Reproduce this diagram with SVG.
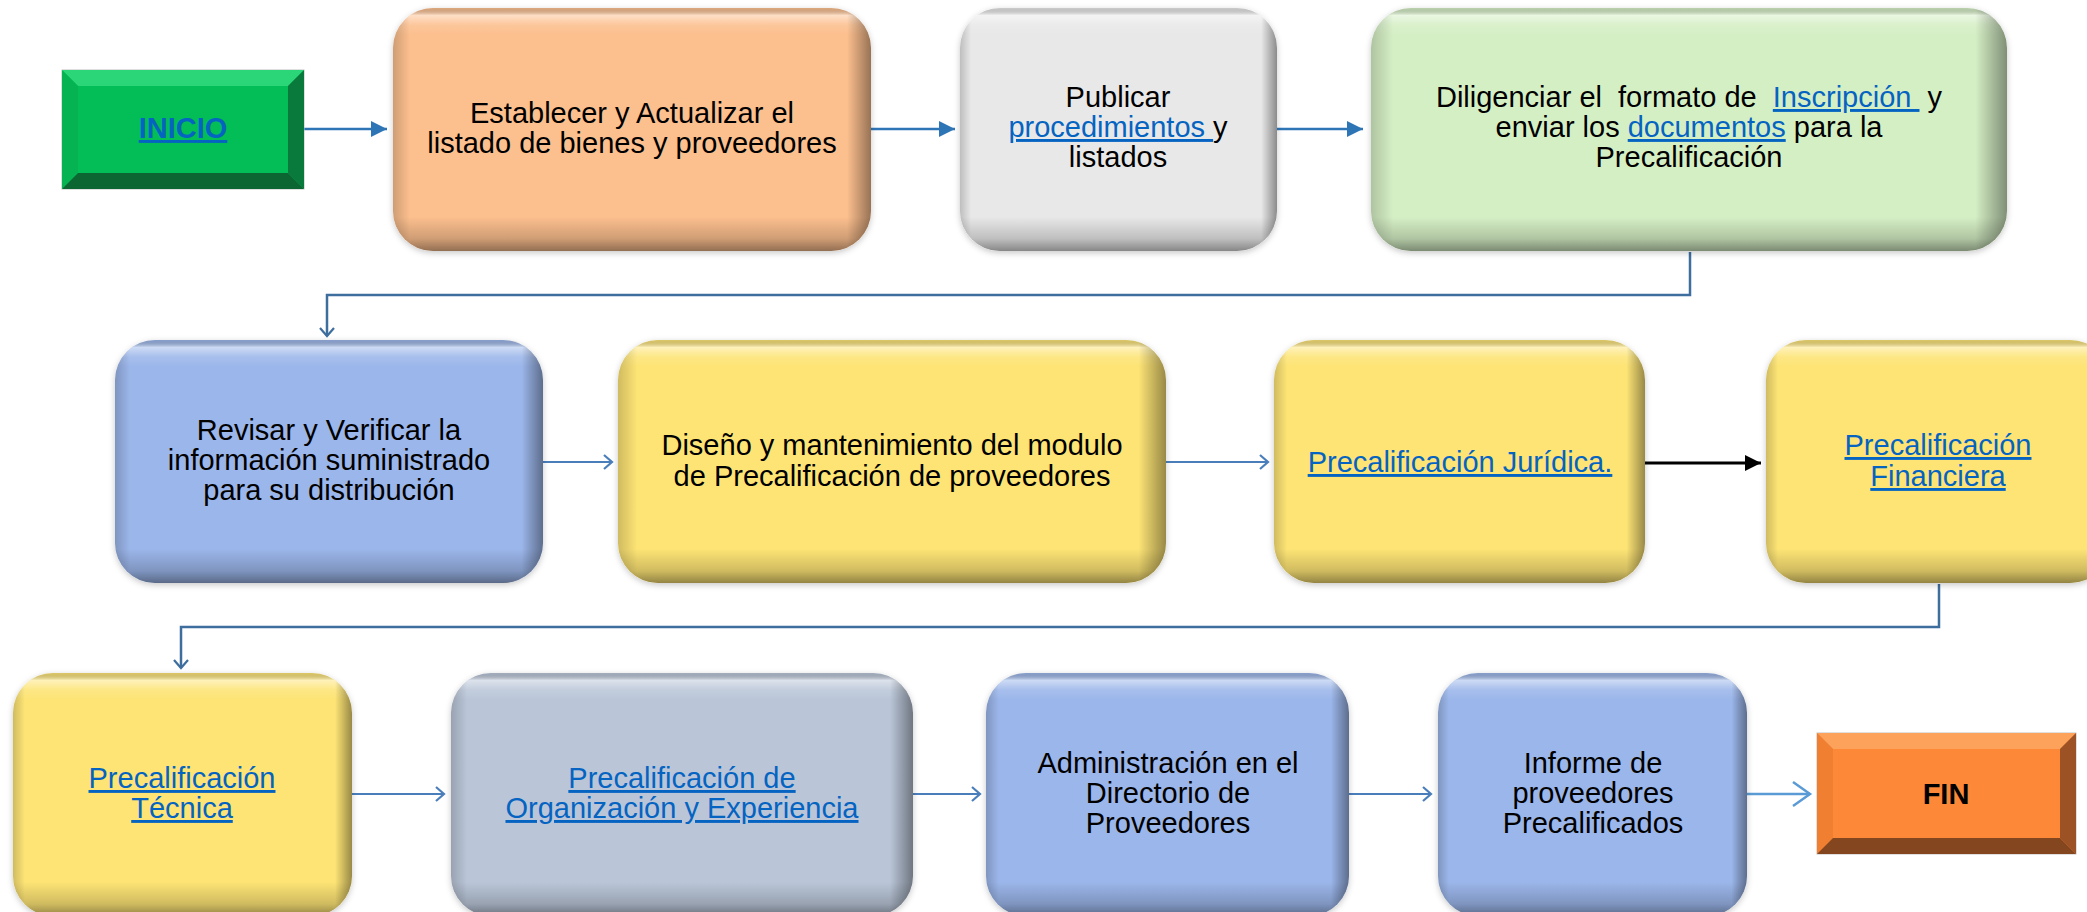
<svg xmlns="http://www.w3.org/2000/svg" width="2087" height="912" viewBox="0 0 2087 912">
<style>
.t{font-family:"Liberation Sans",Arial,sans-serif;font-size:29px;fill:#000;text-anchor:middle}
.b{font-weight:bold}
.lk{fill:#0563C1;text-decoration:underline}
.ov1{fill:url(#gV)}
.ov2{fill:url(#gH)}
.c1{fill:none;stroke:#2E75B6;stroke-width:2.5}
.c2{fill:none;stroke:#3E6E9E;stroke-width:2.5}
.c3{fill:none;stroke:#4A7EBB;stroke-width:2.2}
.c4{fill:none;stroke:#000;stroke-width:3}
.c5{fill:none;stroke:#5B9BD5;stroke-width:2.5}
</style>
<defs>
<filter id="sh" x="-10%" y="-10%" width="120%" height="120%">
<feDropShadow dx="0" dy="2" stdDeviation="3" flood-color="#000" flood-opacity="0.22"/>
</filter>
<linearGradient id="gV" x1="0" y1="0" x2="0" y2="1">
<stop offset="0" stop-color="#000" stop-opacity="0.12"/>
<stop offset="0.03" stop-color="#fff" stop-opacity="0.5"/>
<stop offset="0.07" stop-color="#fff" stop-opacity="0.12"/>
<stop offset="0.11" stop-color="#fff" stop-opacity="0"/>
<stop offset="0.86" stop-color="#000" stop-opacity="0"/>
<stop offset="0.95" stop-color="#000" stop-opacity="0.18"/>
<stop offset="1" stop-color="#000" stop-opacity="0.42"/>
</linearGradient>
<linearGradient id="gH" x1="0" y1="0" x2="1" y2="0">
<stop offset="0" stop-color="#000" stop-opacity="0.18"/>
<stop offset="0.035" stop-color="#000" stop-opacity="0"/>
<stop offset="0.95" stop-color="#000" stop-opacity="0"/>
<stop offset="1" stop-color="#000" stop-opacity="0.4"/>
</linearGradient>
<marker id="mFill" markerUnits="userSpaceOnUse" markerWidth="18" markerHeight="18" refX="16" refY="8" orient="auto">
<path d="M0,0 L16,8 L0,16 Z" fill="#2E75B6"/>
</marker>
<marker id="mFillK" markerUnits="userSpaceOnUse" markerWidth="18" markerHeight="18" refX="16" refY="8" orient="auto">
<path d="M0,0 L16,8 L0,16 Z" fill="#000"/>
</marker>
<marker id="mOpen" markerUnits="userSpaceOnUse" markerWidth="14" markerHeight="18" refX="11" refY="8" orient="auto">
<path d="M3,1 L11,8 L3,15" fill="none" stroke="#4A7EBB" stroke-width="2.2"/>
</marker>
<marker id="mOpenD" markerUnits="userSpaceOnUse" markerWidth="14" markerHeight="18" refX="11" refY="8" orient="auto">
<path d="M3,1 L11,8 L3,15" fill="none" stroke="#3E6E9E" stroke-width="2.2"/>
</marker>
<marker id="mOpenBig" markerUnits="userSpaceOnUse" markerWidth="22" markerHeight="30" refX="19" refY="14" orient="auto">
<path d="M2,2 L19,14 L2,26" fill="none" stroke="#5B9BD5" stroke-width="2.5"/>
</marker>
</defs>
<rect width="2087" height="912" fill="#fff"/>

<g id="connectors">
<path class="c1" d="M304,129 H387" marker-end="url(#mFill)"/>
<path class="c1" d="M871,129 H955" marker-end="url(#mFill)"/>
<path class="c1" d="M1277,129 H1363" marker-end="url(#mFill)"/>
<path class="c2" d="M1690,252 V295 H327 V336" marker-end="url(#mOpenD)"/>
<path class="c3" d="M543,462 H612" marker-end="url(#mOpen)"/>
<path class="c3" d="M1166,462 H1268" marker-end="url(#mOpen)"/>
<path class="c4" d="M1645,463 H1761" marker-end="url(#mFillK)"/>
<path class="c2" d="M1939,584 V627 H181 V668" marker-end="url(#mOpenD)"/>
<path class="c3" d="M352,794 H444" marker-end="url(#mOpen)"/>
<path class="c3" d="M913,794 H980" marker-end="url(#mOpen)"/>
<path class="c3" d="M1349,794 H1431" marker-end="url(#mOpen)"/>
<path class="c5" d="M1747,794 H1810" marker-end="url(#mOpenBig)"/>
</g>

<g id="inicio">
<rect x="62" y="70" width="242" height="119" fill="#03BE57" stroke="#BFBFBF" stroke-width="1"/>
<polygon points="62,70 304,70 288,86 78,86" fill="#2AD677"/>
<polygon points="62,70 78,86 78,173 62,189" fill="#06B352"/>
<polygon points="304,70 304,189 288,173 288,86" fill="#0A7A3C"/>
<polygon points="62,189 78,173 288,173 304,189" fill="#0B6632"/>
<text class="t b" x="183" y="138"><tspan class="lk">INICIO</tspan></text>
</g>

<g id="n-establecer">
<rect x="393" y="8" width="478" height="243" rx="40" fill="#FCBF8E" filter="url(#sh)"/>
<rect class="ov1" x="393" y="8" width="478" height="243" rx="40"/>
<rect class="ov2" x="393" y="8" width="478" height="243" rx="40"/>
<text class="t" x="632" y="123">Establecer y Actualizar el</text>
<text class="t" x="632" y="153">listado de bienes y proveedores</text>
</g>

<g id="n-publicar">
<rect x="960" y="8" width="317" height="243" rx="40" fill="#E8E8E8" filter="url(#sh)"/>
<rect class="ov1" x="960" y="8" width="317" height="243" rx="40"/>
<rect class="ov2" x="960" y="8" width="317" height="243" rx="40"/>
<text class="t" x="1118" y="107">Publicar</text>
<text class="t" x="1118" y="137" xml:space="preserve"><tspan class="lk">procedimientos </tspan>y</text>
<text class="t" x="1118" y="167">listados</text>
</g>

<g id="n-diligenciar">
<rect x="1371" y="8" width="636" height="243" rx="40" fill="#D5EFC5" filter="url(#sh)"/>
<rect class="ov1" x="1371" y="8" width="636" height="243" rx="40"/>
<rect class="ov2" x="1371" y="8" width="636" height="243" rx="40"/>
<text class="t" x="1689" y="107" xml:space="preserve">Diligenciar el  formato de  <tspan class="lk">Inscripción </tspan> y</text>
<text class="t" x="1689" y="137" xml:space="preserve">enviar los <tspan class="lk">documentos</tspan> para la</text>
<text class="t" x="1689" y="167">Precalificación</text>
</g>

<g id="n-revisar">
<rect x="115" y="340" width="428" height="243" rx="40" fill="#9BB6EA" filter="url(#sh)"/>
<rect class="ov1" x="115" y="340" width="428" height="243" rx="40"/>
<rect class="ov2" x="115" y="340" width="428" height="243" rx="40"/>
<text class="t" x="329" y="440">Revisar y Verificar la</text>
<text class="t" x="329" y="470">información suministrado</text>
<text class="t" x="329" y="500">para su distribución</text>
</g>

<g id="n-diseno">
<rect x="618" y="340" width="548" height="243" rx="40" fill="#FDE474" filter="url(#sh)"/>
<rect class="ov1" x="618" y="340" width="548" height="243" rx="40"/>
<rect class="ov2" x="618" y="340" width="548" height="243" rx="40"/>
<text class="t" x="892" y="455">Diseño y mantenimiento del modulo</text>
<text class="t" x="892" y="486">de Precalificación de proveedores</text>
</g>

<g id="n-juridica">
<rect x="1274" y="340" width="371" height="243" rx="40" fill="#FDE474" filter="url(#sh)"/>
<rect class="ov1" x="1274" y="340" width="371" height="243" rx="40"/>
<rect class="ov2" x="1274" y="340" width="371" height="243" rx="40"/>
<text class="t" x="1460" y="472"><tspan class="lk">Precalificación Jurídica.</tspan></text>
</g>

<g id="n-financiera">
<rect x="1766" y="340" width="344" height="243" rx="40" fill="#FDE474" filter="url(#sh)"/>
<rect class="ov1" x="1766" y="340" width="344" height="243" rx="40"/>
<rect class="ov2" x="1766" y="340" width="344" height="243" rx="40"/>
<text class="t" x="1938" y="455"><tspan class="lk">Precalificación</tspan></text>
<text class="t" x="1938" y="486"><tspan class="lk">Financiera</tspan></text>
</g>

<g id="n-tecnica">
<rect x="13" y="673" width="339" height="243" rx="40" fill="#FDE474" filter="url(#sh)"/>
<rect class="ov1" x="13" y="673" width="339" height="243" rx="40"/>
<rect class="ov2" x="13" y="673" width="339" height="243" rx="40"/>
<text class="t" x="182" y="788"><tspan class="lk">Precalificación</tspan></text>
<text class="t" x="182" y="818"><tspan class="lk">Técnica</tspan></text>
</g>

<g id="n-organizacion">
<rect x="451" y="673" width="462" height="243" rx="40" fill="#BAC6D8" filter="url(#sh)"/>
<rect class="ov1" x="451" y="673" width="462" height="243" rx="40"/>
<rect class="ov2" x="451" y="673" width="462" height="243" rx="40"/>
<text class="t" x="682" y="788"><tspan class="lk">Precalificación de</tspan></text>
<text class="t" x="682" y="818"><tspan class="lk">Organización y Experiencia</tspan></text>
</g>

<g id="n-administracion">
<rect x="986" y="673" width="363" height="243" rx="40" fill="#9BB6EA" filter="url(#sh)"/>
<rect class="ov1" x="986" y="673" width="363" height="243" rx="40"/>
<rect class="ov2" x="986" y="673" width="363" height="243" rx="40"/>
<text class="t" x="1168" y="773">Administración en el</text>
<text class="t" x="1168" y="803">Directorio de</text>
<text class="t" x="1168" y="833">Proveedores</text>
</g>

<g id="n-informe">
<rect x="1438" y="673" width="309" height="243" rx="40" fill="#9BB6EA" filter="url(#sh)"/>
<rect class="ov1" x="1438" y="673" width="309" height="243" rx="40"/>
<rect class="ov2" x="1438" y="673" width="309" height="243" rx="40"/>
<text class="t" x="1593" y="773">Informe de</text>
<text class="t" x="1593" y="803">proveedores</text>
<text class="t" x="1593" y="833">Precalificados</text>
</g>

<g id="fin">
<rect x="1817" y="733" width="259" height="121" fill="#FC8838" stroke="#BFBFBF" stroke-width="1"/>
<polygon points="1817,733 2076,733 2060,749 1833,749" fill="#FDA25A"/>
<polygon points="1817,733 1833,749 1833,838 1817,854" fill="#F07F32"/>
<polygon points="2076,733 2076,854 2060,838 2060,749" fill="#9C5224"/>
<polygon points="1817,854 1833,838 2060,838 2076,854" fill="#84461F"/>
<text class="t b" x="1946" y="804">FIN</text>
</g>
</svg>
